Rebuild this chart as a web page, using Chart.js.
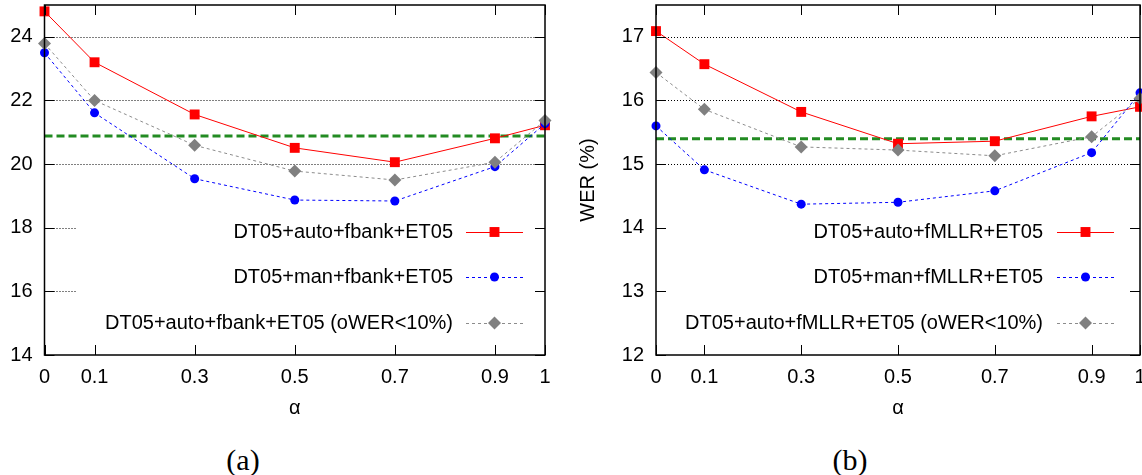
<!DOCTYPE html>
<html>
<head>
<meta charset="utf-8">
<script src="https://cdn.jsdelivr.net/npm/chart.js@4.4.1/dist/chart.umd.min.js"></script>
<style>
    body { margin: 0; background: #fff; width: 1142px; height: 475px; position: relative; overflow: hidden; }
    .panel { position: absolute; top: 0; height: 430px; }
    .caption { position: absolute; top: 445px; width: 100px; text-align: center; font: 30px "Liberation Serif", "Times New Roman", serif; line-height: 30px; color: #000; }
</style>
</head>
<body>
<div class="panel" style="left:0; width:570px;"><canvas id="wer-fbank"></canvas></div>
<div class="panel" style="left:570px; width:572px;"><canvas id="wer-fmllr"></canvas></div>
<div class="caption" style="left:193px;">(a)</div>
<div class="caption" style="left:800px;">(b)</div>
<script>
// alpha values on the x axis
var alpha = [0, 0.1, 0.3, 0.5, 0.7, 0.9, 1];
var xTicks = [0, 0.1, 0.3, 0.5, 0.7, 0.9, 1];

// (a) fbank
var fbankAuto = [24.8, 23.2, 21.56, 20.51, 20.06, 20.81, 21.22];
var fbankMan = [23.5, 21.61, 19.54, 18.87, 18.84, 19.92, 21.27];
var fbankAutoLow = [23.79, 22.0, 20.59, 19.78, 19.5, 20.06, 21.37];
var fbankBaseline = 20.88;
var fbankLabels = ['DT05+auto+fbank+ET05', 'DT05+man+fbank+ET05', 'DT05+auto+fbank+ET05 (oWER<10%)'];
var yTicksA = [14, 16, 18, 20, 22, 24];

// (b) fMLLR
var fmllrAuto = [17.09, 16.57, 15.82, 15.32, 15.36, 15.75, 15.9];
var fmllrMan = [15.6, 14.91, 14.37, 14.4, 14.58, 15.18, 16.12];
var fmllrAutoLow = [16.44, 15.86, 15.27, 15.22, 15.13, 15.43, 16.03];
var fmllrBaseline = 15.4;
var fmllrLabels = ['DT05+auto+fMLLR+ET05', 'DT05+man+fMLLR+ET05', 'DT05+auto+fMLLR+ET05 (oWER<10%)'];
var yTicksB = [12, 13, 14, 15, 16, 17];

Chart.defaults.font.family = '"Liberation Sans", Arial, sans-serif';
Chart.defaults.font.size = 20;
Chart.defaults.color = '#000';

function pts(ys) {
    return alpha.map(function (a, i) { return {x: a, y: ys[i]}; });
}

// gnuplot look: dotted grid, opaque key, inward ticks on all sides
var gnuFrame = {
    id: 'gnuFrame',
    beforeDatasetsDraw: function (chart, args, opts) {
        var ctx = chart.ctx, a = chart.chartArea, y = chart.scales.y;
        ctx.save();
        ctx.strokeStyle = '#000';
        ctx.lineWidth = 1;
        ctx.setLineDash([1, 2]);
        y.ticks.forEach(function (t) {
            if (t.value <= y.min) return;
            var py = Math.round(y.getPixelForValue(t.value)) + 0.5;
            ctx.beginPath();
            ctx.moveTo(a.left, py);
            ctx.lineTo(a.right, py);
            ctx.stroke();
        });
        // key background hides the grid
        ctx.fillStyle = '#fff';
        ctx.fillRect(opts.boxLeft, opts.rows[0] - 22, a.right - 1 - opts.boxLeft, opts.rows[2] - opts.rows[0] + 44);
        ctx.restore();
    },
    afterDatasetsDraw: function (chart, args, opts) {
        var ctx = chart.ctx, a = chart.chartArea, x = chart.scales.x, y = chart.scales.y;
        ctx.save();
        chart.data.datasets.forEach(function (ds, i) {
            if (!ds.label) return;
            var ry = opts.rows[i];
            ctx.fillStyle = '#000';
            ctx.font = '20px "Liberation Sans", Arial, sans-serif';
            ctx.textAlign = 'right';
            ctx.textBaseline = 'middle';
            ctx.fillText(ds.label, opts.textRight, ry);
            ctx.strokeStyle = ds.borderColor;
            ctx.lineWidth = ds.borderWidth;
            ctx.setLineDash(ds.borderDash || []);
            ctx.beginPath();
            ctx.moveTo(opts.lineLeft, ry + 0.5);
            ctx.lineTo(opts.lineRight, ry + 0.5);
            ctx.stroke();
            ctx.setLineDash([]);
            ctx.fillStyle = ds.pointBackgroundColor;
            Chart.helpers.drawPoint(ctx, {pointStyle: ds.pointStyle, radius: ds.pointRadius, rotation: 0, borderWidth: 0},
                (opts.lineLeft + opts.lineRight) / 2, ry);
        });
        // ticks
        ctx.setLineDash([]);
        ctx.strokeStyle = '#000';
        ctx.lineWidth = 1;
        ctx.beginPath();
        x.ticks.forEach(function (t) {
            var px = Math.round(x.getPixelForValue(t.value)) + 0.5;
            ctx.moveTo(px, a.bottom); ctx.lineTo(px, a.bottom - 10);
            ctx.moveTo(px, a.top); ctx.lineTo(px, a.top + 10);
        });
        y.ticks.forEach(function (t) {
            var py = Math.round(y.getPixelForValue(t.value)) + 0.5;
            ctx.moveTo(a.left, py); ctx.lineTo(a.left + 10, py);
            ctx.moveTo(a.right, py); ctx.lineTo(a.right - 10, py);
        });
        ctx.stroke();
        // border
        ctx.lineWidth = 1.5;
        ctx.strokeRect(a.left, a.top, a.right - a.left, a.bottom - a.top);
        ctx.restore();
    }
};

function makeChart(id, auto, man, autoLow, baseline, labels, yMin, yMax, yTicks, yAxisWidth, yTitle, key) {
    var config = {
        type: 'scatter',
        data: {
            datasets: [
                {
                    label: labels[0],
                    data: pts(auto),
                    showLine: true,
                    borderColor: '#ff0000',
                    borderWidth: 1,
                    pointStyle: 'rect',
                    pointRadius: 7,
                    pointBackgroundColor: '#ff0000',
                    pointBorderWidth: 0,
                    clip: false,
                    order: 3
                },
                {
                    label: labels[1],
                    data: pts(man),
                    showLine: true,
                    borderColor: '#0000ff',
                    borderWidth: 1,
                    borderDash: [3, 3],
                    pointStyle: 'circle',
                    pointRadius: 4.5,
                    pointBackgroundColor: '#0000ff',
                    pointBorderWidth: 0,
                    clip: false,
                    order: 2
                },
                {
                    label: labels[2],
                    data: pts(autoLow),
                    showLine: true,
                    borderColor: '#8c8c8c',
                    borderWidth: 1,
                    borderDash: [3, 3],
                    pointStyle: 'rectRot',
                    pointRadius: 6.5,
                    pointBackgroundColor: '#808080',
                    pointBorderWidth: 0,
                    clip: false,
                    order: 1
                },
                {
                    label: '',
                    data: [{x: alpha[0], y: baseline}, {x: alpha[alpha.length - 1], y: baseline}],
                    showLine: true,
                    borderColor: '#228b22',
                    borderWidth: 3,
                    borderDash: [8, 4],
                    pointRadius: 0,
                    order: 4
                }
            ]
        },
        options: {
            responsive: true,
            maintainAspectRatio: false,
            animation: false,
            events: [],
            layout: {autoPadding: false, padding: {top: 5, right: key.padRight, left: 0, bottom: 0}},
            plugins: {
                legend: {display: false},
                tooltip: {enabled: false},
                gnuFrame: key
            },
            scales: {
                x: {
                    type: 'linear',
                    min: 0,
                    max: 1,
                    afterBuildTicks: function (s) { s.ticks = xTicks.map(function (v) { return {value: v}; }); },
                    afterFit: function (s) { s.height = 75; s.paddingLeft = 0; s.paddingRight = 0; },
                    ticks: {padding: 10, autoSkip: false, maxRotation: 0, callback: function (v) { return String(v); }},
                    grid: {display: false, drawTicks: false},
                    border: {display: false},
                    title: {display: true, text: 'α', padding: {top: 0, bottom: 10}}
                },
                y: {
                    type: 'linear',
                    min: yMin,
                    max: yMax,
                    afterBuildTicks: function (s) { s.ticks = yTicks.map(function (v) { return {value: v}; }); },
                    afterFit: function (s) { s.width = yAxisWidth; s.paddingTop = 0; s.paddingBottom = 0; },
                    ticks: {padding: 12, callback: function (v) { return String(v); }},
                    grid: {display: false, drawTicks: false},
                    border: {display: false},
                    title: {display: !!yTitle, text: yTitle, padding: {top: 6, bottom: 0}}
                }
            }
        },
        plugins: [gnuFrame]
    };
    return new Chart(document.getElementById(id).getContext('2d'), config);
}

makeChart('wer-fbank', fbankAuto, fbankMan, fbankAutoLow, fbankBaseline, fbankLabels, 14, 25, yTicksA, 44.5, '',
    {padRight: 25, boxLeft: 77, rows: [232, 277, 323], textRight: 453, lineLeft: 466, lineRight: 523});
makeChart('wer-fmllr', fmllrAuto, fmllrMan, fmllrAutoLow, fmllrBaseline, fmllrLabels, 12, 17.5, yTicksB, 86, 'WER (%)',
    {padRight: 2, boxLeft: 88, rows: [232, 277, 323], textRight: 473, lineLeft: 487, lineRight: 544});
</script>
</body>
</html>
